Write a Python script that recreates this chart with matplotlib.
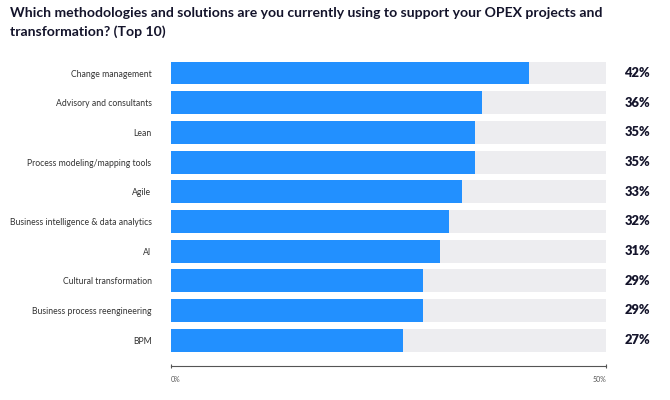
import matplotlib
matplotlib.use('Agg')
import matplotlib.pyplot as plt
import matplotlib.transforms as mtransforms

# Data (top to bottom)
categories = [
    "Change management",
    "Advisory and consultants",
    "Lean",
    "Process modeling/mapping tools",
    "Agile",
    "Business intelligence & data analytics",
    "AI",
    "Cultural transformation",
    "Business process reengineering",
    "BPM",
]
# printed labels
values = [42, 36, 35, 35, 33, 32, 31, 29, 29, 27]
# bar lengths as drawn in the chart (unrounded)
bar_lengths = [41.2, 35.7, 34.9, 34.9, 33.4, 31.9, 30.9, 29.0, 29.0, 26.7]
track_max = 50
tick_values = [0, 50]
tick_labels = ["0%", "50%"]

BAR_COLOR = "#2290FF"
TRACK_COLOR = "#EDEDF0"
TEXT_DARK = "#14142B"

plt.rcParams['font.family'] = ['Lato', 'DejaVu Sans']

W, H = 670, 400
fig = plt.figure(figsize=(W / 100, H / 100), dpi=100)

# axes placed in pixel terms: x 171..606, y 58..366
left, right = 171, 606
top, bottom = 58.2, 366
ax = fig.add_axes([left / W, 1 - bottom / H, (right - left) / W, (bottom - top) / H])

ypos = list(range(len(categories)))
ax.barh(ypos, [track_max] * len(ypos), height=0.77, color=TRACK_COLOR, zorder=1)
ax.barh(ypos, bar_lengths, height=0.77, color=BAR_COLOR, zorder=2)

ax.set_xlim(0, track_max)
ax.set_ylim(9.87, -0.5)

for s in ['top', 'right', 'left']:
    ax.spines[s].set_visible(False)
ax.spines['bottom'].set_color('#555555')
ax.spines['bottom'].set_linewidth(0.8)

ax.set_yticks(ypos)
ax.set_yticklabels(categories, fontsize=6.2, color='#333333')
ax.tick_params(axis='y', length=0, pad=14)

ax.set_xticks(tick_values)
ax.set_xticklabels(tick_labels, fontsize=5, color='#555555')
ax.tick_params(axis='x', length=2.5, width=0.8, color='#555555', direction='inout', pad=6)
xt = ax.get_xticklabels()
xt[0].set_ha('left')
xt[-1].set_ha('right')

trans = mtransforms.blended_transform_factory(fig.transFigure, ax.transData)
for y, v in zip(ypos, values):
    ax.text(650 / W, y, f"{v}%", transform=trans, ha='right', va='center',
            fontsize=9.3, fontweight='heavy', color=TEXT_DARK)

fig.text(10 / W, 1 - 13 / H,
         "Which methodologies and solutions are you currently using to support your OPEX projects and",
         fontsize=10.1, fontweight='bold', color=TEXT_DARK, va='center', ha='left')
fig.text(10 / W, 1 - 32 / H, "transformation? (Top 10)",
         fontsize=10.1, fontweight='bold', color=TEXT_DARK, va='center', ha='left')

fig.savefig('out.png', dpi=100)
